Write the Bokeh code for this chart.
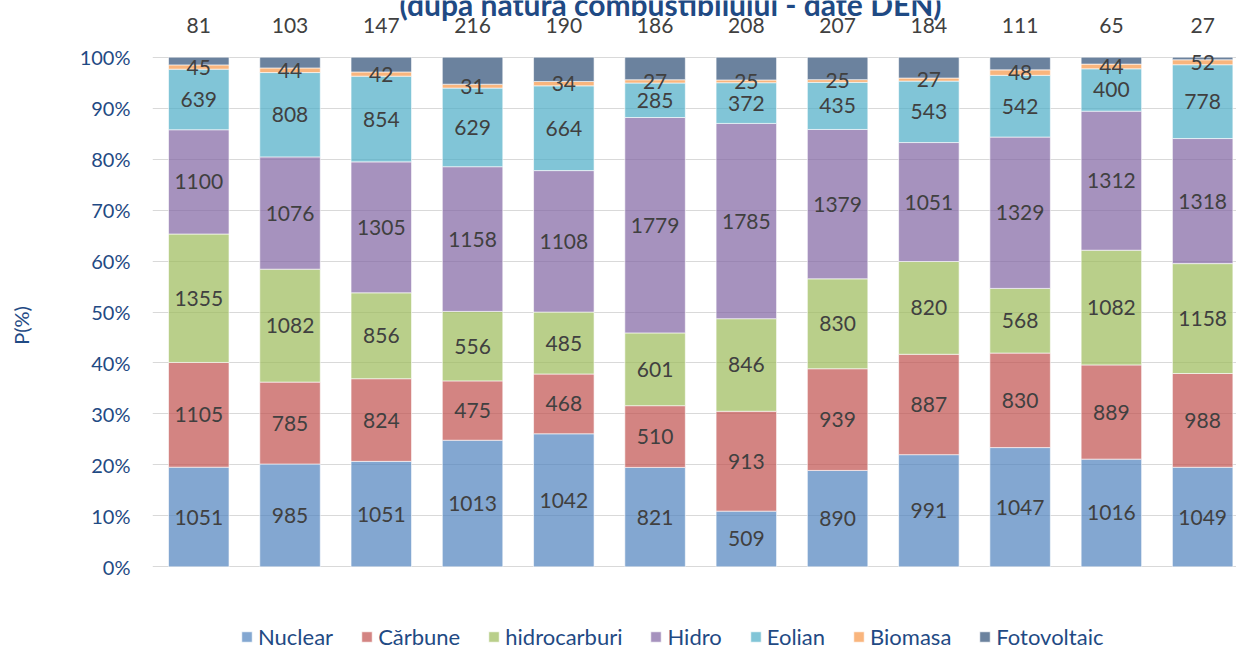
import numpy as np
from bokeh.plotting import figure
from bokeh.models import ColumnDataSource, FixedTicker, Label, PrintfTickFormatter
from bokeh.core.properties import value
from bokeh.embed import file_html
from bokeh.resources import INLINE

# ---------------- data ----------------
bars = list(range(12))
series = ["Nuclear", "Cărbune", "hidrocarburi", "Hidro", "Eolian", "Biomasa", "Fotovoltaic"]
nuclear = [1051, 985, 1051, 1013, 1042, 821, 509, 890, 991, 1047, 1016, 1049]
carbune = [1105, 785, 824, 475, 468, 510, 913, 939, 887, 830, 889, 988]
hidrocarburi = [1355, 1082, 856, 556, 485, 601, 846, 830, 820, 568, 1082, 1158]
hidro = [1100, 1076, 1305, 1158, 1108, 1779, 1785, 1379, 1051, 1329, 1312, 1318]
eolian = [639, 808, 854, 629, 664, 285, 372, 435, 543, 542, 400, 778]
biomasa = [45, 44, 42, 31, 34, 27, 25, 25, 27, 48, 44, 52]
fotovoltaic = [81, 103, 147, 216, 190, 186, 208, 207, 184, 111, 65, 27]
y_ticks = list(range(0, 101, 10))
title_text = "(după natura combustibilului - date DEN)"
y_label = "P(%)"

colors = ["#4F81BD", "#C0504D", "#9BBB59", "#8064A2", "#4BACC6", "#F79646", "#2C4D75"]
blue_text = "#1F4A84"
label_grey = "#404040"
FONT = "Lato"

values = [nuclear, carbune, hidrocarburi, hidro, eolian, biomasa, fotovoltaic]
vals = np.array(values, dtype=float)
totals = vals.sum(axis=0)
shares = vals / totals * 100.0
keys = [f"s{i}" for i in range(len(series))]

data = {"x": bars}
for k, sh in zip(keys, shares):
    data[k] = sh
src = ColumnDataSource(data)

p = figure(width=1236, height=650,
           x_range=(-0.507, 11.371), y_range=(-16.42, 111.13),
           x_axis_location=None,
           output_backend="svg", toolbar_location=None,
           min_border_left=152, min_border_right=0,
           min_border_top=0, min_border_bottom=0)
p.outline_line_color = None
p.background_fill_color = "white"
p.xgrid.visible = False

p.vbar_stack(keys, x="x", width=0.663, source=src, color=colors,
             fill_alpha=0.7, line_color="white", line_alpha=0.6, line_width=1,
             legend_label=series)

# data labels
cum = np.cumsum(shares, axis=0)
lx, ly, lt = [], [], []
for i in range(len(series) - 1):
    centers = cum[i] - shares[i] / 2.0
    for j in bars:
        lx.append(j)
        ly.append(centers[j])
        lt.append(str(values[i][j]))
for j in bars:
    lx.append(j)
    ly.append(100 + 6.3)
    lt.append(str(fotovoltaic[j]))
lsrc = ColumnDataSource(dict(x=lx, y=ly, t=lt))
p.text(x="x", y="y", text="t", source=lsrc, text_align="center",
       text_baseline="middle", text_font=value(FONT), text_font_size="21px",
       text_color=label_grey)

# title (partly cut at the top as in the reference)
p.add_layout(Label(x=5.17, y=110.5, text=title_text, text_align="center",
                   text_baseline="alphabetic", text_font=FONT,
                   text_font_size="30px", text_font_style="bold",
                   text_color=blue_text))

# axes / grid
ax = p.yaxis[0]
ax.ticker = FixedTicker(ticks=y_ticks)
ax.formatter = PrintfTickFormatter(format="%d%%")
ax.axis_line_color = None
ax.major_tick_line_color = None
ax.minor_tick_line_color = None
ax.major_tick_out = 0
ax.major_label_standoff = 22
ax.major_label_text_font = FONT
ax.major_label_text_font_size = "20px"
ax.major_label_text_color = blue_text
ax.axis_label = y_label
ax.axis_label_standoff = 44
ax.axis_label_text_font = FONT
ax.axis_label_text_font_size = "20px"
ax.axis_label_text_font_style = "normal"
ax.axis_label_text_color = blue_text
p.ygrid.ticker = FixedTicker(ticks=y_ticks)
p.ygrid.grid_line_color = "#D9D9D9"
p.ygrid.grid_line_width = 1

# legend
lg = p.legend[0]
lg.orientation = "horizontal"
lg.location = (88, 0)
lg.padding = 0
lg.margin = 0
lg.spacing = 27
lg.border_line_color = None
lg.background_fill_alpha = 0
lg.glyph_width = 13
lg.glyph_height = 13
lg.label_standoff = 5
lg.label_height = 20
lg.label_text_font = FONT
lg.label_text_font_size = "22px"
lg.label_text_color = blue_text

open("out.html", "w").write(file_html(p, INLINE))
